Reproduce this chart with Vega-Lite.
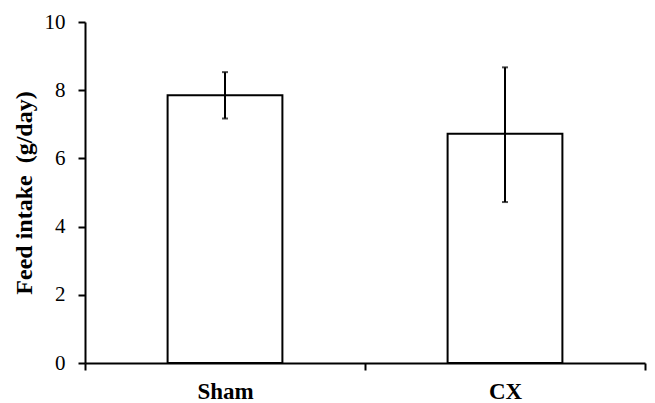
{
  "$schema": "https://vega.github.io/schema/vega-lite/v6.json",
  "autosize": "none",
  "width": 560,
  "height": 341,
  "padding": {"left": 85, "top": 22, "right": 10, "bottom": 40},
  "background": "white",
  "data": {"values": [
    {"group": "Sham", "mean": 7.85, "lo": 7.17, "hi": 8.53},
    {"group": "CX", "mean": 6.72, "lo": 4.72, "hi": 8.67}
  ]},
  "encoding": {
    "x": {"field": "group", "type": "nominal", "sort": ["Sham", "CX"],
      "scale": {"paddingInner": 0, "paddingOuter": 0},
      "axis": {"title": null, "labelAngle": 0, "ticks": true, "tickBand": "extent", "domainColor": "black", "domainWidth": 2, "tickColor": "black", "tickWidth": 2, "tickSize": 7,
        "labelFont": "Liberation Serif", "labelFontWeight": "bold", "labelFontSize": 23, "labelColor": "black", "labelPadding": 10}}
  },
  "layer": [
    {"mark": {"type": "bar", "fill": "white", "stroke": "black", "strokeWidth": 2, "width": {"band": 0.41}},
      "encoding": {"y": {"field": "mean", "type": "quantitative",
        "scale": {"domain": [0, 10]},
        "axis": {"values": [0, 2, 4, 6, 8, 10], "grid": false, "title": "Feed intake\u00a0 (g/day)",
          "titleFont": "Liberation Serif", "titleFontWeight": "bold", "titleFontSize": 24, "titleColor": "black", "titlePadding": 8,
          "labelFont": "Liberation Serif", "labelFontSize": 21, "labelColor": "black", "labelPadding": 13,
          "domainColor": "black", "domainWidth": 2, "tickColor": "black", "tickWidth": 2, "tickSize": 7}}}},
    {"mark": {"type": "rule", "color": "black", "strokeWidth": 2},
      "encoding": {"y": {"field": "lo", "type": "quantitative"}, "y2": {"field": "hi"}}},
    {"mark": {"type": "tick", "color": "black", "thickness": 2, "size": 6},
      "encoding": {"y": {"field": "lo", "type": "quantitative"}}},
    {"mark": {"type": "tick", "color": "black", "thickness": 2, "size": 6},
      "encoding": {"y": {"field": "hi", "type": "quantitative"}}}
  ],
  "config": {"view": {"stroke": null}}
}
